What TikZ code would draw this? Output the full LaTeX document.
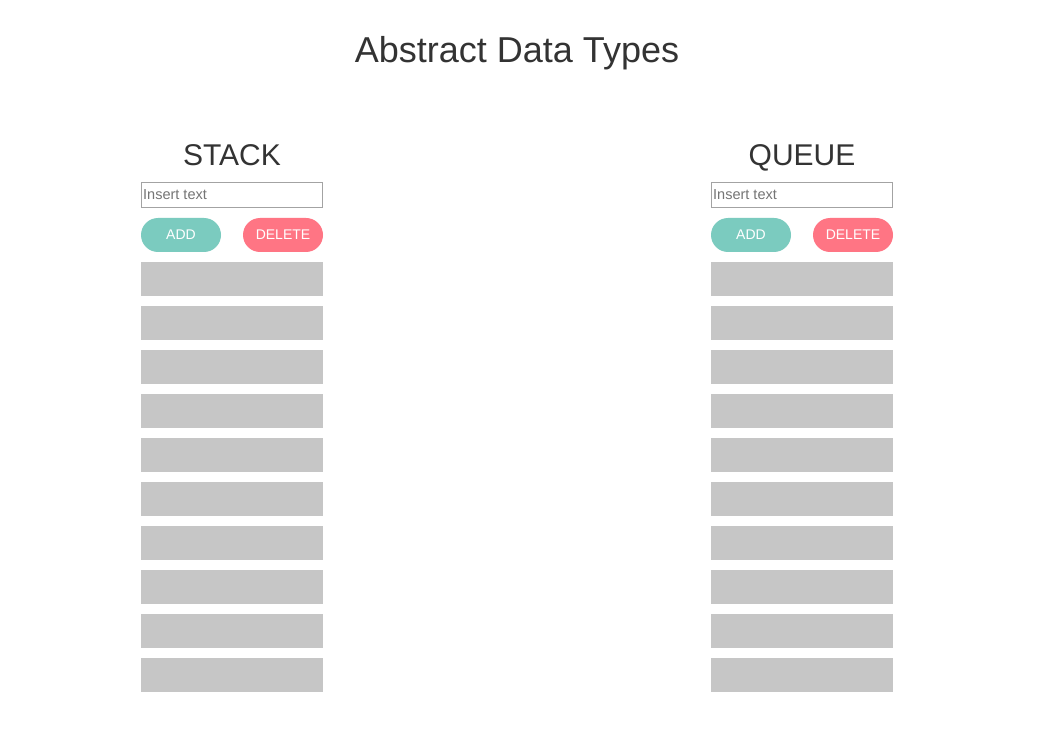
\documentclass[tikz,border=0pt]{standalone}
\usepackage{fontspec}
\setmainfont{Liberation Sans}
\definecolor{txt}{HTML}{333333}
\definecolor{teal}{HTML}{7BCBBF}
\definecolor{pink}{HTML}{FF7584}
\definecolor{bar}{HTML}{C6C6C6}
\definecolor{bord}{HTML}{A3A3A3}
\definecolor{ph}{HTML}{757575}
\begin{document}
\begin{tikzpicture}[x=1pt,y=-1pt,
  titletext/.style={text=txt,inner sep=0pt,anchor=base,font=\fontsize{36}{40}\selectfont},
  headtext/.style={text=txt,inner sep=0pt,anchor=base,font=\fontsize{30}{32}\selectfont},
  inbox/.style={draw=bord,line width=1pt,fill=white,minimum width=181pt,minimum height=25pt,inner sep=0pt,outer sep=0pt,anchor=north west},
  phtext/.style={text=ph,inner sep=0pt,anchor=base west,font=\fontsize{14.5}{16}\selectfont},
  btn/.style={rounded corners=17pt,minimum width=80pt,minimum height=34pt,inner sep=0pt,outer sep=0pt,anchor=north west,text=white,font=\fontsize{14}{16}\selectfont},
  addbtn/.style={btn,fill=teal},
  delbtn/.style={btn,fill=pink},
  cell/.style={fill=bar,minimum width=182pt,minimum height=34pt,inner sep=0pt,outer sep=0pt,anchor=north west}
]
\useasboundingbox[fill=white] (0,0) rectangle (1050,751);
\node[titletext] (title) at (517,62.5) {Abstract Data Types};
\foreach \nm/\lbl/\x in {s/STACK/141, q/QUEUE/711}{
  \node[headtext] (\nm head) at (\x+91,166) {\lbl};
  \node[inbox] (\nm in) at (\x+0.5,182.5) {};
  \node[phtext] (\nm ph) at (\x+2,200) {Insert text};
  \node[addbtn] (\nm add) at (\x,218) {ADD};
  \node[delbtn] (\nm del) at (\x+102,218) {DELETE};
  \foreach \i in {0,...,9}{
    \node[cell] (\nm cell\i) at (\x,262+44*\i) {};
  }
}
\end{tikzpicture}
\end{document}
